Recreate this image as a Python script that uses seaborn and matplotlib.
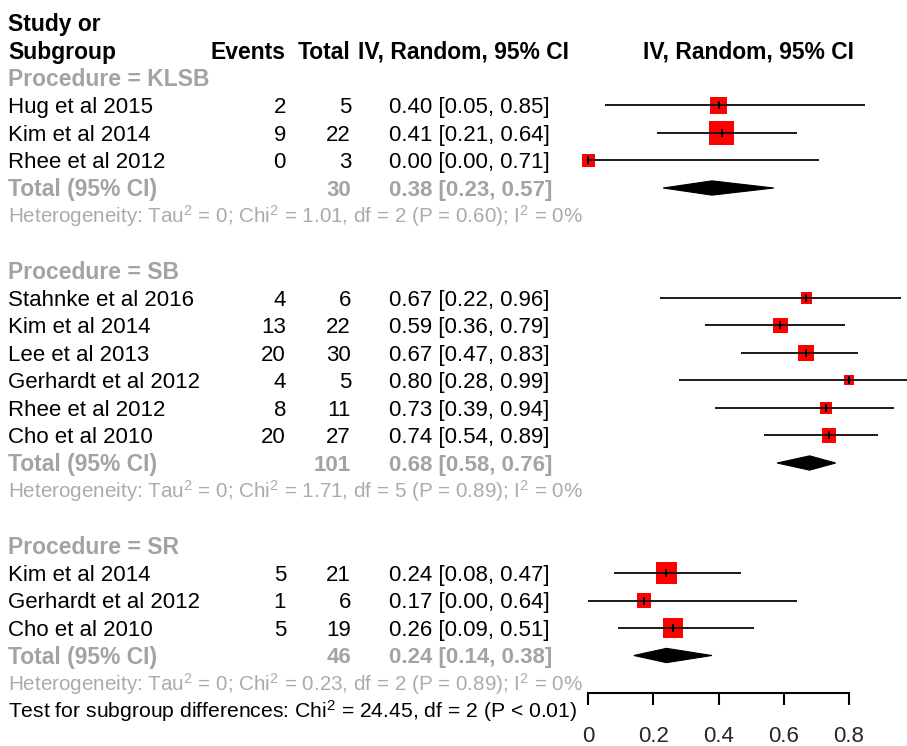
import matplotlib
matplotlib.use("Agg")
import matplotlib.pyplot as plt
import matplotlib.transforms as mtransforms
from matplotlib.patches import Polygon
import pandas as pd
import seaborn as sns

# ---- study-level data -------------------------------------------------------
groups = ["KLSB", "SB", "SR"]
study_group = ["KLSB", "KLSB", "KLSB",
               "SB", "SB", "SB", "SB", "SB", "SB",
               "SR", "SR", "SR"]
study = ["Hug et al 2015", "Kim et al 2014", "Rhee et al 2012",
         "Stahnke et al 2016", "Kim et al 2014", "Lee et al 2013",
         "Gerhardt et al 2012", "Rhee et al 2012", "Cho et al 2010",
         "Kim et al 2014", "Gerhardt et al 2012", "Cho et al 2010"]
events = [2, 9, 0, 4, 13, 20, 4, 8, 20, 5, 1, 5]
total = [5, 22, 3, 6, 22, 30, 5, 11, 27, 21, 6, 19]
prop = [0.40, 0.41, 0.00, 0.67, 0.59, 0.67, 0.80, 0.73, 0.74, 0.24, 0.17, 0.26]
ci_low = [0.05, 0.21, 0.00, 0.22, 0.36, 0.47, 0.28, 0.39, 0.54, 0.08, 0.00, 0.09]
ci_high = [0.85, 0.64, 0.71, 0.96, 0.79, 0.83, 0.99, 0.94, 0.89, 0.47, 0.64, 0.51]
# relative box area (study weight)
weight = [2.8, 6.1, 1.6, 1.35, 2.1, 2.5, 1.0, 1.3, 2.05, 4.5, 2.0, 4.0]

# ---- pooled estimates per subgroup -----------------------------------------
pooled_n = [30, 101, 46]
pooled = [0.38, 0.68, 0.24]
pooled_low = [0.23, 0.58, 0.14]
pooled_high = [0.57, 0.76, 0.38]
het_tau2 = ["0", "0", "0"]
het_chi2 = ["1.01", "1.71", "0.23"]
het_df = [2, 5, 2]
het_p = ["0.60", "0.89", "0.89"]
het_i2 = ["0%", "0%", "0%"]

test_chi2 = "24.45"
test_df = 2
test_p = "< 0.01"

x_ticks = [0, 0.2, 0.4, 0.6, 0.8]
x_ticklabels = ["0", "0.2", "0.4", "0.6", "0.8"]

# ---- layout ----------------------------------------------------------------
W, H = 907, 746
ROW0, ROWH = 23.0, 27.5          # pixel centre of row 0 and row pitch
X0, XS = 588.3, 325.5            # pixel of x=0 and pixels per unit

GREY = "#a3a3a3"
GREY_LIGHT = "#ababab"
FS = 16
FS_HEAD = 16.5
FS_HET = 14.9
FS_TEST = 15.2

sns.set_style("white")
plt.rcParams["font.family"] = ["Liberation Sans", "DejaVu Sans"]
plt.rcParams["mathtext.fontset"] = "custom"
plt.rcParams["mathtext.rm"] = "Liberation Sans"
plt.rcParams["mathtext.it"] = "Liberation Sans:italic"
plt.rcParams["mathtext.bf"] = "Liberation Sans:bold"

fig = plt.figure(figsize=(W / 100, H / 100), dpi=100)
ax = fig.add_axes([0, 0, 1, 1])
xlim = (-X0 / XS, (W - X0) / XS)
ylim = ((H - ROW0) / ROWH, -ROW0 / ROWH)

trans = mtransforms.blended_transform_factory(fig.transFigure, ax.transData)


def put(xpx, row, s, fs=FS, ha="left", color="black", weight_="normal"):
    # baseline placed so the capitals are centred on the row
    off = 0.716 * fs * 100 / 72 / 2 / ROWH
    ax.text(xpx / W, row + off, s, transform=trans, ha=ha, va="baseline",
            fontsize=fs, color=color, fontweight=weight_)


# column headers
put(8, 0, "Study or", fs=FS_HEAD, weight_="bold")
put(8, 1, "Subgroup", fs=FS_HEAD, weight_="bold")
put(286, 1, "Events", fs=FS_HEAD, ha="right", weight_="bold")
put(350, 1, "Total", fs=FS_HEAD, ha="right", weight_="bold")
put(358, 1, "IV, Random, 95% CI", fs=FS_HEAD, weight_="bold")
put(643, 1, "IV, Random, 95% CI", fs=FS_HEAD, weight_="bold")

# assign rows
rows = []
group_rows = []
total_rows = []
r = 2
for gi, g in enumerate(groups):
    group_rows.append(r)
    r += 1
    for sg in study_group:
        if sg == g:
            rows.append(r)
            r += 1
    total_rows.append(r)
    r += 2
    if gi < len(groups) - 1:
        r += 1
test_row = r

for gi, g in enumerate(groups):
    put(8, group_rows[gi], f"Procedure = {g}", fs=FS_HEAD, color=GREY, weight_="bold")
    tr = total_rows[gi]
    put(8, tr, "Total (95% CI)", fs=FS_HEAD, color=GREY, weight_="bold")
    put(351, tr, f"{pooled_n[gi]}", fs=FS, ha="right", color=GREY, weight_="bold")
    put(389, tr, f"{pooled[gi]:.2f} [{pooled_low[gi]:.2f}, {pooled_high[gi]:.2f}]",
        fs=FS, color=GREY, weight_="bold")
    put(8, tr + 1,
        f"Heterogeneity: Tau$^2$ = {het_tau2[gi]}; Chi$^2$ = {het_chi2[gi]}, "
        f"df = {het_df[gi]} (P = {het_p[gi]}); I$^2$ = {het_i2[gi]}",
        fs=FS_HET, color=GREY_LIGHT)

for i, name in enumerate(study):
    put(8, rows[i], name)
    put(286, rows[i], f"{events[i]}", ha="right")
    put(351, rows[i], f"{total[i]}", ha="right")
    put(389, rows[i], f"{prop[i]:.2f} [{ci_low[i]:.2f}, {ci_high[i]:.2f}]")

put(8, test_row,
    f"Test for subgroup differences: Chi$^2$ = {test_chi2}, df = {test_df} (P {test_p})",
    fs=FS_TEST)

# ---- forest marks ----------------------------------------------------------
df = pd.DataFrame({"est": prop, "row": rows, "weight": weight})
side_px_per_sqrt_w = 10.0
max_w = 10.0
max_area = (side_px_per_sqrt_w * max_w ** 0.5 * 72 / 100) ** 2
sns.scatterplot(data=df, x="est", y="row", size="weight", sizes=(0, max_area),
                size_norm=(0, max_w), marker="s", color="#ff0000", linewidth=0,
                legend=False, ax=ax, zorder=3)
ax.hlines(rows, ci_low, ci_high, color="#1a1a1a", lw=1.4, zorder=4)
ax.scatter(prop, rows, marker="|", s=36, color="black", linewidths=1.4, zorder=5)

for gi in range(len(groups)):
    tr = total_rows[gi]
    h = 0.26
    poly = Polygon([(pooled_low[gi], tr), (pooled[gi], tr - h),
                    (pooled_high[gi], tr), (pooled[gi], tr + h)],
                   closed=True, facecolor="black", edgecolor="black", lw=0.8, zorder=4)
    ax.add_patch(poly)

ax.set_xlim(*xlim)
ax.set_ylim(*ylim)
ax.axis("off")

# ---- x axis below the plot -------------------------------------------------
axis_y_px = 693.3
ax2 = fig.add_axes([0, (H - axis_y_px) / H, 1, 0.01])
ax2.set_facecolor("none")
ax2.set_xlim(*xlim)
for s in ["left", "right", "top"]:
    ax2.spines[s].set_visible(False)
ax2.spines["bottom"].set_bounds(x_ticks[0], x_ticks[-1])
ax2.spines["bottom"].set_linewidth(1.5)
ax2.spines["bottom"].set_color("black")
ax2.set_yticks([])
ax2.set_xticks(x_ticks)
ax2.set_xticklabels(x_ticklabels)
ax2.tick_params(axis="x", direction="out", length=8.9, width=1.5, color="black",
                labelsize=16, pad=15, bottom=True)
ax2.set_xlabel("")

fig.savefig("out.png", dpi=100)
